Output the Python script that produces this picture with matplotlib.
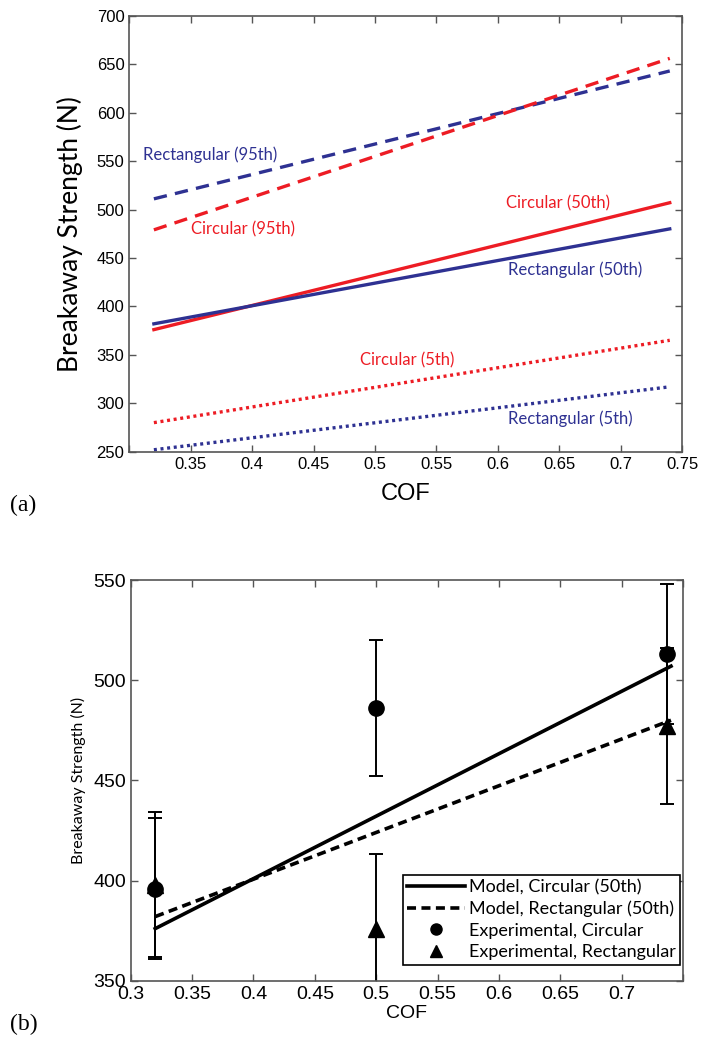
import matplotlib
matplotlib.use("Agg")
import matplotlib.pyplot as plt
from matplotlib.lines import Line2D
import numpy as np

# ---- data (panel a) ----
cof_ends = [0.32, 0.74]
circ_95 = [479, 656]
rect_95 = [511, 643]
circ_50 = [376, 507]
rect_50 = [382, 480]
circ_5 = [280, 365]
rect_5 = [252, 317]

# ---- data (panel b) ----
exp_cof = [0.32, 0.50, 0.737]
exp_circ = [396, 486, 513]
exp_circ_err = [35, 34, 35]
exp_rect = [398, 376, 477]
exp_rect_err = [36, 37, 39]

RED = "#ED1C24"
BLUE = "#2E3192"
NARROW = ["Liberation Sans Narrow", "Liberation Sans", "DejaVu Sans"]
LABELF = ["Lato", "Open Sans", "DejaVu Sans"]

fig = plt.figure(figsize=(7.04, 10.5), dpi=100)

def style_axes(ax, fs):
    for s in ax.spines.values():
        s.set_color("#555555")
        s.set_linewidth(1.2)
    ax.tick_params(direction="in", top=True, right=True, length=5,
                   width=1, color="#555555", labelsize=fs)
    for lab in ax.get_xticklabels() + ax.get_yticklabels():
        lab.set_family(NARROW)

# ---------------- panel (a) ----------------
ax1 = fig.add_axes([0.1837, 0.5698, 0.7851, 0.4152])
ax1.plot(cof_ends, rect_95, color=BLUE, lw=2.4, dashes=(4, 2.5))
ax1.plot(cof_ends, circ_95, color=RED, lw=2.4, dashes=(4, 2.5))
ax1.plot(cof_ends, circ_50, color=RED, lw=2.4)
ax1.plot(cof_ends, rect_50, color=BLUE, lw=2.4)
ax1.plot(cof_ends, circ_5, color=RED, lw=2.4, dashes=(0.9, 1.1))
ax1.plot(cof_ends, rect_5, color=BLUE, lw=2.4, dashes=(0.9, 1.1))
ax1.set_xlim(0.3, 0.75)
ax1.set_ylim(250, 700)
ax1.set_xticks(np.arange(0.30, 0.751, 0.05))
ax1.set_xticklabels([""] + ["%g" % round(v, 2) for v in np.arange(0.35, 0.751, 0.05)])
ax1.set_yticks(np.arange(250, 701, 50))
style_axes(ax1, 12)
ax1.set_xlabel("COF", family=NARROW, fontsize=17, labelpad=8)
ax1.set_ylabel("Breakaway Strength (N)", family=LABELF, fontsize=19, labelpad=10)

ann = [
    ("Rectangular (95th)", 0.311, 557, BLUE),
    ("Circular (95th)", 0.350, 480, RED),
    ("Circular (50th)", 0.607, 506, RED),
    ("Rectangular (50th)", 0.608, 438, BLUE),
    ("Circular (5th)", 0.488, 344, RED),
    ("Rectangular (5th)", 0.608, 284, BLUE),
]
for txt, x, y, c in ann:
    ax1.text(x, y, txt, color=c, fontsize=12, family=LABELF, ha="left", va="center")

fig.text(0.014, 0.519, "(a)", family="Liberation Serif", fontsize=17, va="center")

# ---------------- panel (b) ----------------
ax2 = fig.add_axes([0.1856, 0.066, 0.785, 0.3816])
ax2.plot(cof_ends, circ_50, color="black", lw=2.6)
ax2.plot(cof_ends, rect_50, color="black", lw=2.6, dashes=(2.5, 1.5))
ax2.errorbar(exp_cof, exp_circ, yerr=exp_circ_err, fmt="o", color="black",
             ms=11, capsize=5, elinewidth=1.4, capthick=1.4)
ax2.errorbar(exp_cof, exp_rect, yerr=exp_rect_err, fmt="^", color="black",
             ms=11, capsize=5, elinewidth=1.4, capthick=1.4)
ax2.set_xlim(0.3, 0.75)
ax2.set_ylim(350, 550)
ax2.set_xticks(np.arange(0.30, 0.751, 0.05))
ax2.set_xticklabels(["%g" % round(v, 2) for v in np.arange(0.30, 0.701, 0.05)] + [""])
ax2.set_yticks(np.arange(350, 551, 50))
style_axes(ax2, 14)
ax2.set_xlabel("COF", family=NARROW, fontsize=14, labelpad=2)
ax2.set_ylabel("Breakaway Strength (N)", family=LABELF, fontsize=11.5, labelpad=5)

handles = [
    Line2D([], [], color="black", lw=2.6),
    Line2D([], [], color="black", lw=2.6, dashes=(2.5, 1.5)),
    Line2D([], [], color="black", ls="none", marker="o", ms=8),
    Line2D([], [], color="black", ls="none", marker="^", ms=8),
]
labels = ["Model, Circular (50th)", "Model, Rectangular (50th)",
          "Experimental, Circular", "Experimental, Rectangular"]
leg = ax2.legend(handles, labels, loc="lower right", prop={"family": LABELF, "size": 13},
                 handlelength=3.2, handletextpad=0.2, borderpad=0.25, labelspacing=0.3,
                 borderaxespad=0, fancybox=False, framealpha=1, edgecolor="black",
                 bbox_to_anchor=(0.994, 0.04))
leg.get_frame().set_linewidth(1.2)

fig.text(0.014, 0.024, "(b)", family="Liberation Serif", fontsize=17, va="center")

fig.savefig("out.png", dpi=100)
